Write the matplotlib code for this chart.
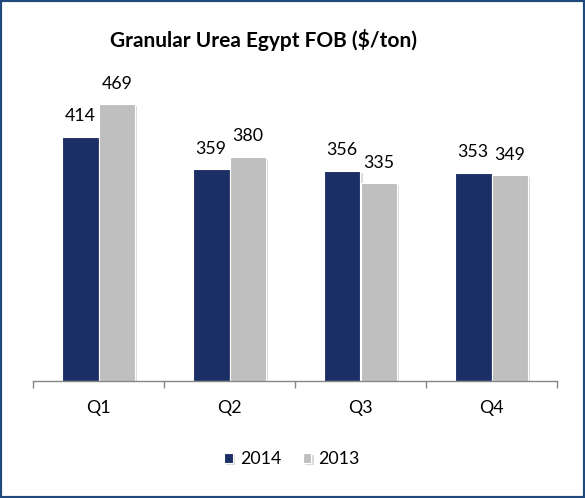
import matplotlib.pyplot as plt
import matplotlib.patheffects as pe
from matplotlib.patches import Rectangle
import numpy as np

quarters = ['Q1', 'Q2', 'Q3', 'Q4']
series_names = ['2014', '2013']
values_2014 = [414, 359, 356, 353]
values_2013 = [469, 380, 335, 349]

navy = '#1B2F66'
grey = '#BFBFBF'

plt.rcParams['font.family'] = ['Lato', 'DejaVu Sans']

fig = plt.figure(figsize=(5.85, 4.98), dpi=100)
ax = fig.add_axes([33 / 585, 117 / 498, 524 / 585, 295 / 498])

x = np.arange(len(quarters))
w = 0.28
shadow = [pe.SimplePatchShadow(offset=(1.5, -1.5), shadow_rgbFace='#9a9a9a', alpha=0.35), pe.Normal()]
b1 = ax.bar(x - w / 2, values_2014, w, color=navy, edgecolor='white', linewidth=0.8,
            label=series_names[0], path_effects=shadow)
b2 = ax.bar(x + w / 2, values_2013, w, color=grey, edgecolor='white', linewidth=0.8,
            label=series_names[1], path_effects=shadow)

for bars in (b1, b2):
    for rect in bars:
        ax.annotate(f'{rect.get_height():.0f}',
                    (rect.get_x() + rect.get_width() / 2, rect.get_height()),
                    xytext=(0, 9), textcoords='offset points',
                    ha='center', va='bottom', fontsize=12.8, color='black')

ax.set_xlim(-0.5, 3.5)
ax.set_ylim(0, 500)
ax.set_yticks([])
for side in ['left', 'right', 'top']:
    ax.spines[side].set_visible(False)
ax.spines['bottom'].set_color('#868686')
ax.spines['bottom'].set_linewidth(1)

ax.set_xticks(x)
ax.set_xticklabels(quarters, fontsize=12.8)
ax.tick_params(axis='x', which='major', length=0, pad=14)
ax.set_xticks(np.arange(-0.5, 4, 1), minor=True)
ax.tick_params(axis='x', which='minor', length=5, width=1, color='#868686', direction='out')

fig.text(263 / 585, 1 - 40 / 498, 'Granular Urea Egypt FOB ($/ton)', ha='center', va='center',
         fontsize=15, fontweight='bold')

fig.legend(handles=[b1, b2], labels=series_names, loc='center', bbox_to_anchor=(292 / 585, 1 - 459 / 498),
           ncol=2, frameon=False, fontsize=12.8, handlelength=0.5, handleheight=0.5,
           handletextpad=0.4, columnspacing=1.2)

fig.add_artist(Rectangle((0, 0), 1, 1, transform=fig.transFigure, fill=False,
                         edgecolor='#1F497D', linewidth=3))

fig.savefig('out.png', dpi=100)
